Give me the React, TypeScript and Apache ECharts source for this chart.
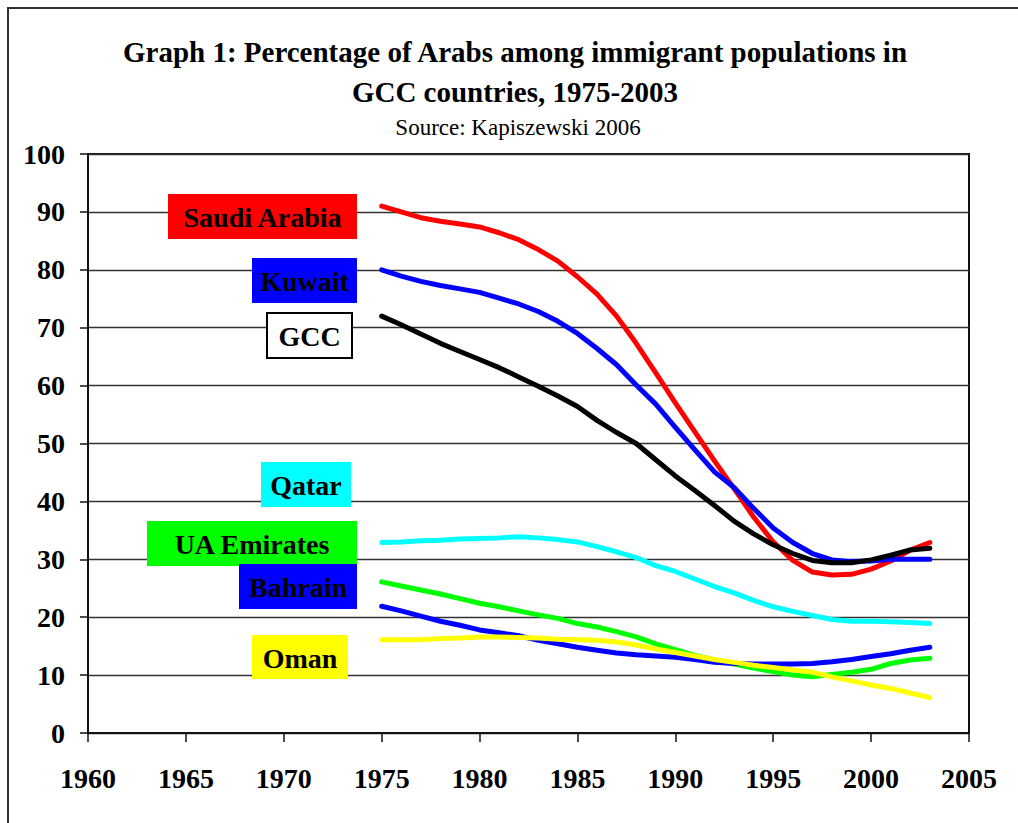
import React, { useEffect, useRef } from "react";
import * as echarts from "echarts";

const years = [1975, 1976, 1977, 1978, 1979, 1980, 1981, 1982, 1983, 1984, 1985, 1986, 1987, 1988, 1989, 1990, 1991, 1992, 1993, 1994, 1995, 1996, 1997, 1998, 1999, 2000, 2001, 2002, 2003];

const saudiArabia = [91.0, 90.0, 89.0, 88.4, 87.9, 87.4, 86.4, 85.2, 83.5, 81.5, 78.8, 75.8, 72.0, 67.3, 62.2, 57.0, 52.0, 47.0, 42.2, 37.3, 33.0, 29.8, 27.8, 27.3, 27.4, 28.3, 29.7, 31.6, 32.9];
const kuwait = [80.0, 78.9, 78.0, 77.3, 76.7, 76.1, 75.1, 74.1, 72.8, 71.1, 69.0, 66.4, 63.6, 60.1, 56.8, 52.8, 48.9, 45.1, 42.4, 38.8, 35.4, 32.9, 31.0, 29.9, 29.6, 29.7, 30.0, 30.0, 30.0];
const gcc = [72.0, 70.5, 68.9, 67.3, 65.9, 64.5, 63.1, 61.5, 59.9, 58.2, 56.4, 54.0, 51.9, 50.0, 47.2, 44.4, 41.9, 39.3, 36.6, 34.4, 32.5, 31.0, 29.8, 29.4, 29.4, 29.9, 30.7, 31.6, 31.9];
const qatar = [32.9, 33.0, 33.2, 33.3, 33.5, 33.6, 33.7, 33.9, 33.7, 33.4, 33.0, 32.2, 31.3, 30.3, 28.9, 27.9, 26.6, 25.3, 24.2, 22.9, 21.8, 21.0, 20.3, 19.6, 19.3, 19.3, 19.2, 19.1, 18.9];
const uaEmirates = [26.1, 25.4, 24.7, 24.0, 23.2, 22.4, 21.8, 21.1, 20.4, 19.8, 18.9, 18.3, 17.5, 16.6, 15.4, 14.4, 13.4, 12.6, 11.9, 11.2, 10.6, 10.0, 9.7, 10.1, 10.5, 11.0, 12.0, 12.6, 12.9];
const bahrain = [21.9, 21.1, 20.2, 19.3, 18.6, 17.8, 17.3, 16.8, 16.0, 15.4, 14.8, 14.3, 13.8, 13.5, 13.3, 13.1, 12.7, 12.2, 12.0, 11.9, 11.9, 11.9, 12.0, 12.3, 12.7, 13.2, 13.7, 14.3, 14.8];
const oman = [16.1, 16.1, 16.1, 16.3, 16.4, 16.6, 16.6, 16.5, 16.4, 16.2, 16.1, 16.0, 15.7, 15.2, 14.5, 13.9, 13.3, 12.7, 12.2, 11.7, 11.3, 10.9, 10.5, 9.7, 9.0, 8.3, 7.7, 6.9, 6.1];

const seriesNames = ["Saudi Arabia", "Kuwait", "GCC", "Qatar", "UA Emirates", "Bahrain", "Oman"];
const seriesValues = [saudiArabia, kuwait, gcc, qatar, uaEmirates, bahrain, oman];
const seriesColors = ["#FF0000", "#0000FF", "#000000", "#00FFFF", "#00FF00", "#0000FF", "#FFFF00"];

const titleLine1 = "Graph 1: Percentage of Arabs among immigrant populations in";
const titleLine2 = "GCC countries, 1975-2003";
const subtitle = "Source: Kapiszewski 2006";

const FONT = "'Liberation Serif', 'Times New Roman', serif";

// label boxes: [name, x, y, w, h, fill, border]
const labelBoxes: [string, number, number, number, number, string, boolean][] = [
  ["Saudi Arabia", 168, 194, 189, 45, "#FF0000", false],
  ["Kuwait", 252, 258, 105, 45, "#0000FF", false],
  ["GCC", 267, 313, 85, 45, "#FFFFFF", true],
  ["Qatar", 261, 462, 90, 45, "#00FFFF", false],
  ["UA Emirates", 147, 521, 210, 45, "#00FF00", false],
  ["Bahrain", 239, 564, 118, 45, "#0000FF", false],
  ["Oman", 252, 635, 96, 44, "#FFFF00", false],
];

export default function App() {
  const ref = useRef<HTMLDivElement>(null);
  useEffect(() => {
    document.body.style.margin = "0";
    if (!ref.current) return;
    const chart = echarts.init(ref.current, undefined, { renderer: "svg" });

    const center = { textAlign: "center", textVerticalAlign: "middle", align: "center", verticalAlign: "middle" };
    const graphics: any[] = [
      {
        type: "polyline",
        shape: { points: [[8, 823], [8, 8], [1018, 8]] },
        style: { stroke: "#333", lineWidth: 2, fill: "none" },
        silent: true,
      },
      {
        type: "text",
        x: 515,
        y: 52,
        style: { text: titleLine1, font: `bold 29px ${FONT}`, fill: "#000", ...center },
      },
      {
        type: "text",
        x: 515,
        y: 92,
        style: { text: titleLine2, font: `bold 29px ${FONT}`, fill: "#000", ...center },
      },
      {
        type: "text",
        x: 518,
        y: 127,
        style: { text: subtitle, font: `23px ${FONT}`, fill: "#000", ...center },
      },
    ];
    labelBoxes.forEach(([name, x, y, w, h, fill, border]) => {
      graphics.push({
        type: "rect",
        shape: { x, y, width: w, height: h },
        style: { fill, stroke: border ? "#000" : null, lineWidth: border ? 2 : 0 },
        z: 10,
      });
      graphics.push({
        type: "text",
        x: x + w / 2,
        y: y + h / 2 + 1,
        style: { text: name, font: `bold 28px ${FONT}`, fill: "#000", ...center },
        z: 11,
      });
    });

    chart.setOption({
      animation: false,
      backgroundColor: "#fff",
      grid: { left: 88, right: 49, top: 154, bottom: 90, show: true, borderColor: "#111", borderWidth: 2, backgroundColor: "transparent" },
      xAxis: {
        type: "value",
        min: 1960,
        max: 2005,
        interval: 5,
        axisLine: { show: true, onZero: false, lineStyle: { color: "#111", width: 2 } },
        axisTick: { show: true, length: 9, inside: false, lineStyle: { color: "#111", width: 1.5 } },
        axisLabel: { margin: 31, fontFamily: FONT, fontWeight: "bold", fontSize: 28, color: "#000", formatter: (v: number) => String(v) },
        splitLine: { show: false },
      },
      yAxis: {
        type: "value",
        min: 0,
        max: 100,
        interval: 10,
        axisLine: { show: true, lineStyle: { color: "#111", width: 2 } },
        axisTick: { show: true, length: 8, inside: false, lineStyle: { color: "#111", width: 1.5 } },
        axisLabel: { margin: 23, fontFamily: FONT, fontWeight: "bold", fontSize: 28, color: "#000" },
        splitLine: { show: true, lineStyle: { color: "#333", width: 1.3 } },
      },
      series: seriesNames.map((name, i) => ({
        name,
        type: "line",
        data: years.map((yr, j) => [yr, seriesValues[i][j]]),
        showSymbol: false,
        symbol: "none",
        lineStyle: { color: seriesColors[i], width: 5, cap: "round", join: "round" },
        itemStyle: { color: seriesColors[i] },
        z: 3,
      })),
      graphic: graphics,
    });
    return () => chart.dispose();
  }, []);
  return <div ref={ref} style={{ width: 1018, height: 823 }} />;
}
